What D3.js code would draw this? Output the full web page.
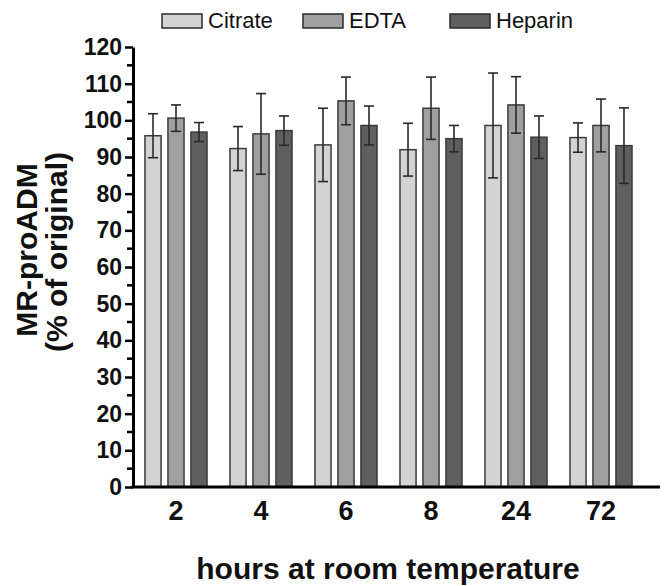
<!DOCTYPE html>
<html>
<head>
<meta charset="utf-8">
<script src="https://cdn.jsdelivr.net/npm/d3@7"></script>
<style>
body { margin: 0; background: #fff; }
svg { display: block; font-family: "Liberation Sans", Arial, sans-serif; }
</style>
</head>
<body>
<script>
var hours = ["2", "4", "6", "8", "24", "72"];
var series = ["Citrate", "EDTA", "Heparin"];
var citrate = [95.8, 92.3, 93.3, 92.0, 98.6, 95.3];
var edta = [100.6, 96.3, 105.3, 103.3, 104.2, 98.6];
var heparin = [96.8, 97.2, 98.6, 95.0, 95.4, 93.1];
var citrateErr = [6.0, 6.0, 10.0, 7.2, 14.3, 4.0];
var edtaErr = [3.6, 11.0, 6.5, 8.5, 7.7, 7.2];
var heparinErr = [2.6, 4.0, 5.3, 3.6, 5.8, 10.3];
var yTicks = [0, 10, 20, 30, 40, 50, 60, 70, 80, 90, 100, 110, 120];

var colors = {Citrate: "#d3d3d3", EDTA: "#a0a0a0", Heparin: "#5f5f5f"};
var values = {Citrate: citrate, EDTA: edta, Heparin: heparin};
var errs = {Citrate: citrateErr, EDTA: edtaErr, Heparin: heparinErr};

var rows = [];
hours.forEach(function(h, i){
  series.forEach(function(s){
    rows.push({hour: h, series: s, value: values[s][i], err: errs[s][i]});
  });
});

var svg = d3.select("body").append("svg").attr("width", 669).attr("height", 586);

var x = d3.scaleBand().domain(hours).range([133.5, 643.5]).paddingInner(0.27).paddingOuter(0.135);
var xs = d3.scaleBand().domain(series).range([0, x.bandwidth()]).paddingInner(0.3);
var y = d3.scaleLinear().domain([0, 120]).range([487, 47]);

// bars
svg.selectAll("rect.bar")
  .data(rows)
  .enter().append("rect")
    .attr("class", "bar")
    .attr("x", function(d){ return x(d.hour) + xs(d.series); })
    .attr("y", function(d){ return y(d.value); })
    .attr("width", xs.bandwidth())
    .attr("height", function(d){ return y(0) - y(d.value); })
    .attr("fill", function(d){ return colors[d.series]; })
    .attr("stroke", "#3a3a3a")
    .attr("stroke-width", 1.5);

// error bars
var eb = svg.selectAll("g.err")
  .data(rows)
  .enter().append("g")
    .attr("class", "err")
    .attr("stroke", "#2a2a2a")
    .attr("stroke-width", 1.6);
eb.append("line")
  .attr("x1", function(d){ return x(d.hour) + xs(d.series) + xs.bandwidth()/2; })
  .attr("x2", function(d){ return x(d.hour) + xs(d.series) + xs.bandwidth()/2; })
  .attr("y1", function(d){ return y(d.value + d.err); })
  .attr("y2", function(d){ return y(d.value - d.err); });
eb.selectAll("line.cap")
  .data(function(d){ return [d.value + d.err, d.value - d.err].map(function(v){ return {d: d, v: v}; }); })
  .enter().append("line")
    .attr("class", "cap")
    .attr("x1", function(c){ return x(c.d.hour) + xs(c.d.series) + xs.bandwidth()/2 - 5; })
    .attr("x2", function(c){ return x(c.d.hour) + xs(c.d.series) + xs.bandwidth()/2 + 5; })
    .attr("y1", function(c){ return y(c.v); })
    .attr("y2", function(c){ return y(c.v); });

// y axis
var yAxis = svg.append("g")
  .attr("transform", "translate(133,0)")
  .call(d3.axisLeft(y).tickValues(yTicks).tickSize(8).tickPadding(3).tickSizeOuter(0));
yAxis.select(".domain").attr("stroke", "#000").attr("stroke-width", 3);
yAxis.selectAll(".tick line").attr("stroke", "#000").attr("stroke-width", 2.5);
yAxis.selectAll(".tick text")
  .attr("font-size", 23).attr("font-weight", "bold").attr("fill", "#111")
  .attr("font-family", "Liberation Sans, Arial, sans-serif");

var minor = d3.range(5, 120, 10);
svg.selectAll("line.minor")
  .data(minor)
  .enter().append("line")
    .attr("class", "minor")
    .attr("x1", 127).attr("x2", 133)
    .attr("y1", function(d){ return y(d); })
    .attr("y2", function(d){ return y(d); })
    .attr("stroke", "#000").attr("stroke-width", 2.5);

// x axis
var xAxis = svg.append("g")
  .attr("transform", "translate(0,487)")
  .call(d3.axisBottom(x).tickSize(0).tickPadding(14).tickSizeOuter(0));
xAxis.select(".domain").attr("d", "M131.5,0H660").attr("stroke", "#000").attr("stroke-width", 3);
xAxis.selectAll(".tick text")
  .attr("font-size", 27).attr("font-weight", "bold").attr("fill", "#111")
  .attr("font-family", "Liberation Sans, Arial, sans-serif");

// axis titles
svg.append("text")
  .attr("transform", "translate(37,250) rotate(-90)")
  .attr("text-anchor", "middle")
  .attr("font-size", 30).attr("font-weight", "bold").attr("fill", "#111")
  .text("MR-proADM");
svg.append("text")
  .attr("transform", "translate(67,252) rotate(-90)")
  .attr("text-anchor", "middle")
  .attr("font-size", 30).attr("font-weight", "bold").attr("fill", "#111")
  .text("(% of original)");
svg.append("text")
  .attr("x", 388).attr("y", 579)
  .attr("text-anchor", "middle")
  .attr("font-size", 30).attr("font-weight", "bold").attr("fill", "#111")
  .text("hours at room temperature");

// legend
var legendX = [162, 303, 450];
var lg = svg.selectAll("g.legend")
  .data(series)
  .enter().append("g")
    .attr("class", "legend")
    .attr("transform", function(d, i){ return "translate(" + legendX[i] + ",14)"; });
lg.append("rect")
  .attr("width", 40).attr("height", 14)
  .attr("fill", function(d){ return colors[d]; })
  .attr("stroke", "#2a2a2a").attr("stroke-width", 1.5);
lg.append("text")
  .attr("x", 46).attr("y", 14)
  .attr("font-size", 22).attr("fill", "#111")
  .text(function(d){ return d; });
</script>
</body>
</html>
